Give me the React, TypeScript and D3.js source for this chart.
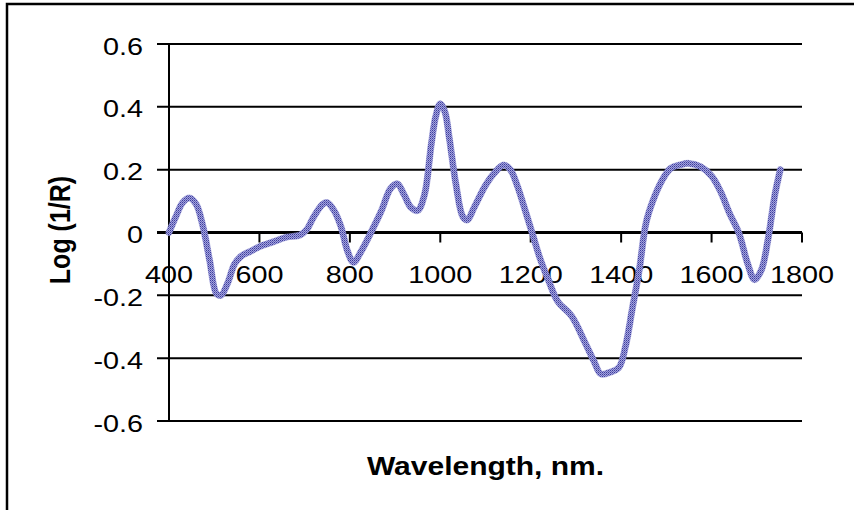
import React from "react";
import * as d3 from "d3";

const wavelengths = [400,415,430,445,460,475,490,505,515,530,545,560,580,600,630,660,690,705,720,740,750,765,780,795,808,825,850,870,890,905,920,935,950,965,980,990,1000,1010,1020,1035,1050,1060,1075,1100,1120,1140,1155,1170,1190,1205,1220,1240,1260,1290,1320,1340,1355,1375,1395,1410,1425,1440,1455,1470,1490,1510,1530,1550,1575,1600,1620,1640,1660,1680,1695,1710,1725,1740,1752];
const logR = [0.00,0.05,0.095,0.11,0.09,0.02,-0.09,-0.195,-0.20,-0.16,-0.10,-0.075,-0.06,-0.045,-0.03,-0.015,-0.008,0.01,0.05,0.09,0.095,0.07,0.02,-0.06,-0.095,-0.06,0.01,0.07,0.14,0.155,0.12,0.08,0.07,0.12,0.28,0.37,0.41,0.385,0.30,0.15,0.05,0.04,0.08,0.15,0.19,0.215,0.20,0.15,0.06,-0.01,-0.08,-0.155,-0.22,-0.265,-0.35,-0.41,-0.45,-0.445,-0.43,-0.36,-0.24,-0.12,0.03,0.10,0.165,0.205,0.215,0.22,0.21,0.18,0.13,0.06,0.00,-0.10,-0.15,-0.12,-0.02,0.12,0.20];

const xTicks = [400,600,800,1000,1200,1400,1600,1800];
const xTickLabels = ["400","600","800","1000","1200","1400","1600","1800"];
const yTicks = [0.6,0.4,0.2,0,-0.2,-0.4,-0.6];
const yTickLabels = ["0.6","0.4","0.2","0","-0.2","-0.4","-0.6"];

const xTitle = "Wavelength, nm.";
const yTitle = "Log (1/R)";

export default function App() {
  const W = 854, H = 510;
  const left = 169, right = 802, top = 44, bottom = 421;
  const x = d3.scaleLinear().domain([400, 1800]).range([left, right]);
  const y = d3.scaleLinear().domain([-0.6, 0.6]).range([bottom, top]);
  const data = wavelengths.map((w, i) => [w, logR[i]] as [number, number]);
  const line = d3.line<[number, number]>()
    .x(d => x(d[0]))
    .y(d => y(d[1]))
    .curve(d3.curveCatmullRom.alpha(0.5));
  const font = "'Liberation Sans', Arial, sans-serif";
  const sx = 1.2;
  return (
    <svg width={W} height={H} style={{ position: "absolute", left: 0, top: 0 }}>
      <defs>
        <pattern id="hatch" width="2" height="2" patternUnits="userSpaceOnUse">
          <rect width="2" height="2" fill="#a4a4de" />
          <rect x="0" y="0" width="1" height="1" fill="#3c3c9c" />
          <rect x="1" y="1" width="1" height="1" fill="#6666b8" />
        </pattern>
      </defs>
      <rect x={0} y={0} width={W} height={H} fill="#fff" />
      <rect x={7} y={4} width={920} height={620} fill="none" stroke="#000" strokeWidth={2.5} />
      {/* gridlines + y ticks */}
      {yTicks.map((t, i) => (
        <g key={"y" + i}>
          {t !== 0 && (
            <line x1={157} x2={right} y1={y(t)} y2={y(t)} stroke="#000" strokeWidth={2} />
          )}
          <text
            transform={`translate(143,${y(t) + 10.6}) scale(${sx},1)`}
            textAnchor="end"
            fontFamily={font}
            fontSize={24}
            fill="#000"
          >
            {yTickLabels[i]}
          </text>
        </g>
      ))}
      {/* y axis */}
      <line x1={left} x2={left} y1={top} y2={bottom} stroke="#000" strokeWidth={2} />
      {/* x axis at zero */}
      <line x1={157} x2={right} y1={y(0)} y2={y(0)} stroke="#000" strokeWidth={3} />
      {xTicks.map((t, i) => (
        <g key={"x" + i}>
          <line x1={x(t)} x2={x(t)} y1={y(0)} y2={y(0) + 10} stroke="#000" strokeWidth={2} />
          <text
            transform={`translate(${x(t)},${y(0) + 50.5}) scale(${sx},1)`}
            textAnchor="middle"
            fontFamily={font}
            fontSize={24}
            fill="#000"
          >
            {xTickLabels[i]}
          </text>
        </g>
      ))}
      {/* data line */}
      <path d={line(data) || ""} fill="none" stroke="#8c8cd0" strokeWidth={7} strokeLinejoin="round" strokeLinecap="round" opacity={0.6} />
      <path d={line(data) || ""} fill="none" stroke="url(#hatch)" strokeWidth={6} strokeLinejoin="round" strokeLinecap="round" />
      {/* titles */}
      <text
        transform={`translate(${(left + right) / 2},475) scale(${sx},1)`}
        textAnchor="middle"
        fontFamily={font}
        fontWeight="bold"
        fontSize={25}
        fill="#000"
      >
        {xTitle}
      </text>
      <text
        transform={`translate(70,230) scale(${sx},1) rotate(-90)`}
        textAnchor="middle"
        fontFamily={font}
        fontWeight="bold"
        fontSize={25}
        fill="#000"
      >
        {yTitle}
      </text>
    </svg>
  );
}
